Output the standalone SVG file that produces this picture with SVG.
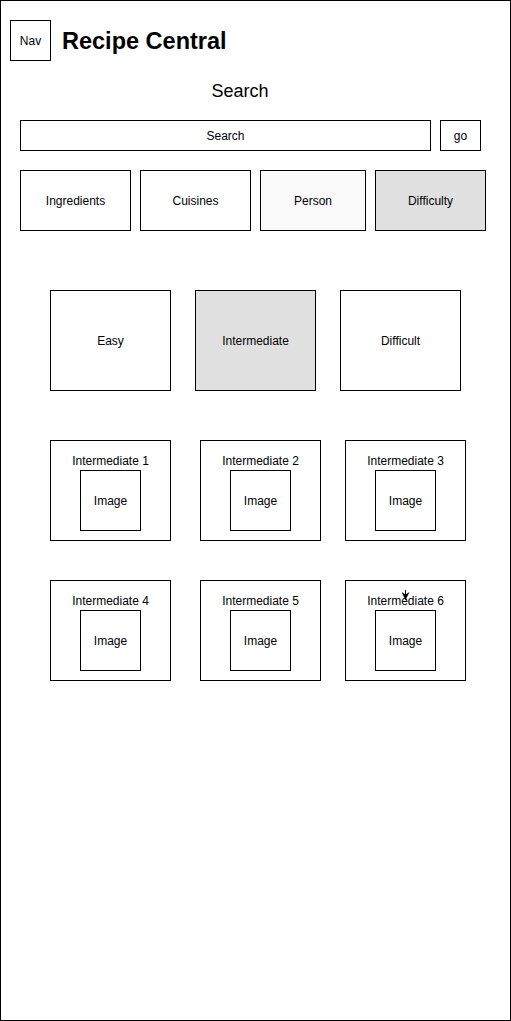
<svg xmlns="http://www.w3.org/2000/svg" width="511" height="1021" viewBox="0 0 511 1021">
<defs>
<style>
.b{fill:#fff;stroke:#000;stroke-width:1}
.t{font-family:"Liberation Sans",Arial,sans-serif;font-size:12px;fill:#000;text-anchor:middle;dominant-baseline:central}
</style>
<marker id="arr" viewBox="0 0 10 10" refX="10" refY="5" markerWidth="8" markerHeight="8" orient="auto" markerUnits="userSpaceOnUse">
<path d="M0,0 L10,5 L0,10 L3,5 Z" fill="#000"/>
</marker>
</defs>
<rect x="0.5" y="0.5" width="510" height="1020" fill="#fff" stroke="#000"/>
<g id="nav"><rect class="b" x="10.5" y="20.5" width="40" height="40"/><text class="t" x="30.5" y="40.5">Nav</text></g>
<g id="title"><text x="62" y="49" font-family="'Liberation Sans',Arial,sans-serif" font-size="23.5" font-weight="bold">Recipe Central</text></g>
<g id="search-label"><text class="t" x="240" y="91" style="font-size:18px">Search</text></g>
<g id="search-bar"><rect class="b" x="20.5" y="120.5" width="410" height="30"/><text class="t" x="225.5" y="135.5">Search</text></g>
<g id="go"><rect class="b" x="440.5" y="120.5" width="40" height="30"/><text class="t" x="460.5" y="135.5">go</text></g>
<g id="ingredients"><rect class="b" x="20.5" y="170.5" width="110" height="60"/><text class="t" x="75.5" y="200.5">Ingredients</text></g>
<g id="cuisines"><rect class="b" x="140.5" y="170.5" width="110" height="60"/><text class="t" x="195.5" y="200.5">Cuisines</text></g>
<g id="person"><rect class="b" x="260.5" y="170.5" width="105" height="60" style="fill:#fafafa"/><text class="t" x="313" y="200.5">Person</text></g>
<g id="difficulty"><rect class="b" x="375.5" y="170.5" width="110" height="60" style="fill:#e0e0e0"/><text class="t" x="430.5" y="200.5">Difficulty</text></g>
<g id="easy"><rect class="b" x="50.5" y="290.5" width="120" height="100"/><text class="t" x="110.5" y="340.5">Easy</text></g>
<g id="intermediate"><rect class="b" x="195.5" y="290.5" width="120" height="100" style="fill:#e0e0e0"/><text class="t" x="255.5" y="340.5">Intermediate</text></g>
<g id="difficult"><rect class="b" x="340.5" y="290.5" width="120" height="100"/><text class="t" x="400.5" y="340.5">Difficult</text></g>
<g id="int1"><rect class="b" x="50.5" y="440.5" width="120" height="100"/><text class="t" x="110.5" y="460.5">Intermediate 1</text><rect class="b" x="80.5" y="470.5" width="60" height="60"/><text class="t" x="110.5" y="500.5">Image</text></g>
<g id="int2"><rect class="b" x="200.5" y="440.5" width="120" height="100"/><text class="t" x="260.5" y="460.5">Intermediate 2</text><rect class="b" x="230.5" y="470.5" width="60" height="60"/><text class="t" x="260.5" y="500.5">Image</text></g>
<g id="int3"><rect class="b" x="345.5" y="440.5" width="120" height="100"/><text class="t" x="405.5" y="460.5">Intermediate 3</text><rect class="b" x="375.5" y="470.5" width="60" height="60"/><text class="t" x="405.5" y="500.5">Image</text></g>
<g id="int4"><rect class="b" x="50.5" y="580.5" width="120" height="100"/><text class="t" x="110.5" y="600.5">Intermediate 4</text><rect class="b" x="80.5" y="610.5" width="60" height="60"/><text class="t" x="110.5" y="640.5">Image</text></g>
<g id="int5"><rect class="b" x="200.5" y="580.5" width="120" height="100"/><text class="t" x="260.5" y="600.5">Intermediate 5</text><rect class="b" x="230.5" y="610.5" width="60" height="60"/><text class="t" x="260.5" y="640.5">Image</text></g>
<g id="int6"><rect class="b" x="345.5" y="580.5" width="120" height="100"/><text class="t" x="405.5" y="600.5">Intermediate 6</text><rect class="b" x="375.5" y="610.5" width="60" height="60"/><text class="t" x="405.5" y="640.5">Image</text></g>
<g id="connectors"><path d="M405.5,590 L405.5,600" stroke="#000" stroke-width="1" fill="none" marker-end="url(#arr)"/></g>
</svg>
